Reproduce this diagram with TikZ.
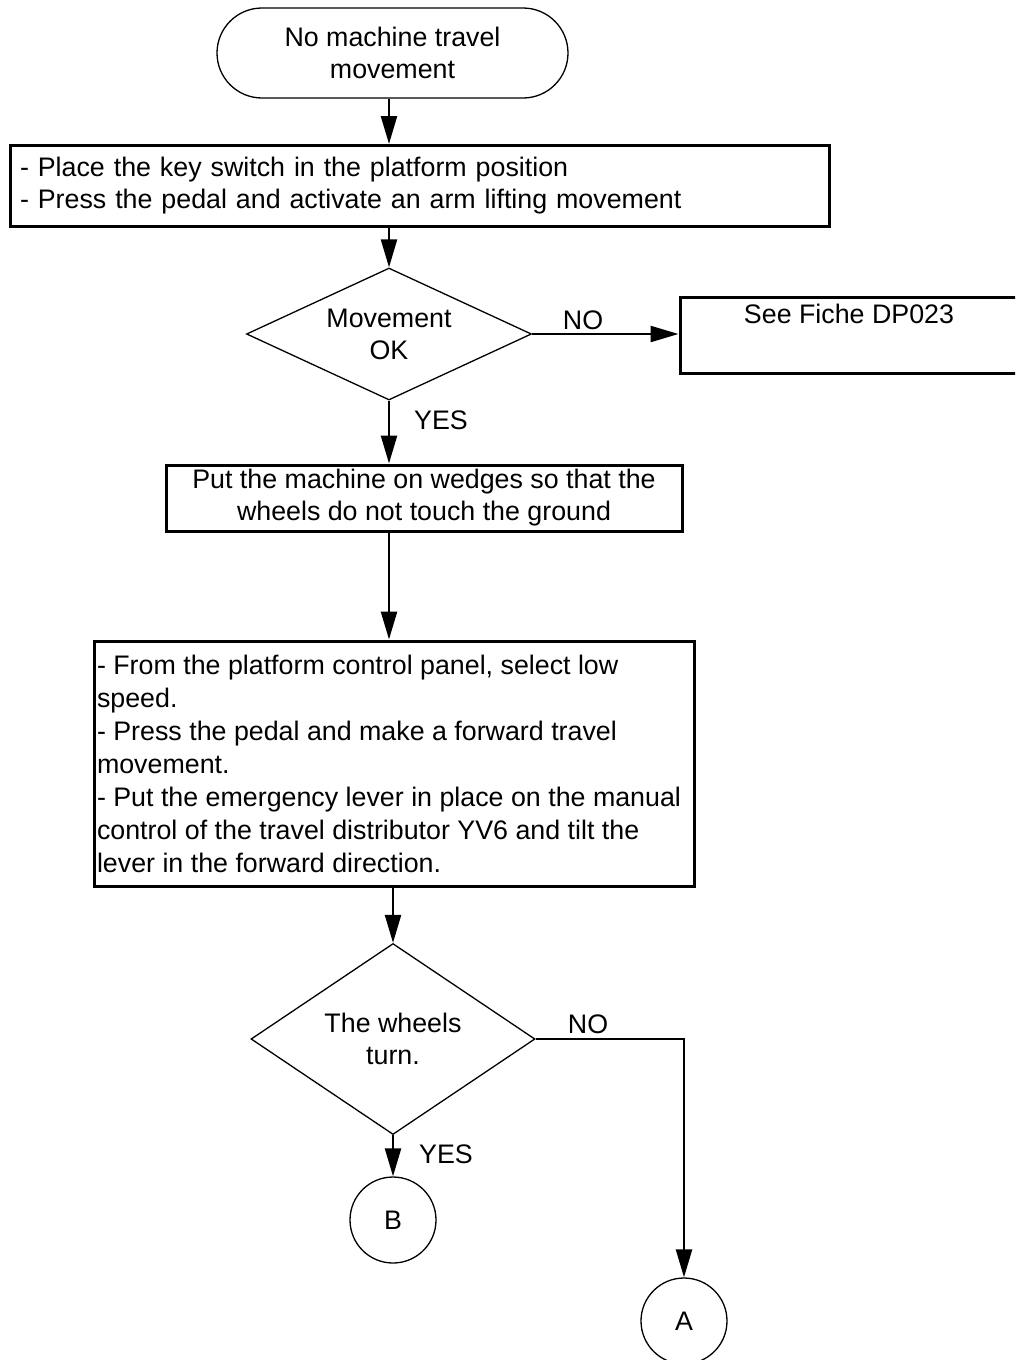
\documentclass[tikz,border=0pt]{standalone}
\usepackage{fontspec}
\setmainfont{Liberation Sans}
\usetikzlibrary{arrows.meta,shapes.geometric}
\begin{document}
\begin{tikzpicture}[x=1pt,y=-1pt,
  every node/.style={font=\fontsize{26.8}{32}\selectfont, inner sep=0pt},
  boxstyle/.style={draw, line width=3pt, rectangle},
  termstyle/.style={draw, line width=1.3pt, rectangle, rounded corners=45pt, minimum width=351pt, minimum height=90pt, align=center},
  decstyle/.style={draw, line width=1.3pt, diamond, aspect=2.16, align=center},
  connstyle/.style={draw, line width=1.3pt, circle, minimum size=86pt},
  flow/.style={line width=2.4pt, -{Triangle[length=28pt,width=16pt]}}
]
\useasboundingbox (0,0) rectangle (1015,1360);
\clip (0,0) rectangle (1015,1360);
\fill[white] (0,0) rectangle (1015,1360);

\node[termstyle] (start) at (392.5,53) {No machine travel\\movement};
\node[boxstyle, minimum width=819pt, minimum height=81pt, text width=799pt, align=left] (box1) at (419.5,186)
  {- Place the key switch in the platform position\\- Press the pedal and activate an arm lifting movement};
\node[decstyle, minimum width=285pt, minimum height=132pt] (d1) at (389,334) {Movement\\OK};
\node[boxstyle, minimum width=338pt, minimum height=76pt, align=center] (box2) at (849,335) {See Fiche DP023\\\strut};
\node[boxstyle, minimum width=516pt, minimum height=66pt, align=center] (box3) at (424,498)
  {Put the machine on wedges so that the\\wheels do not touch the ground};
\node[boxstyle, minimum width=600pt, minimum height=245pt, align=left,
      font=\fontsize{26.8}{33}\selectfont] (box4) at (394,763.5)
  {- From the platform control panel, select low\\speed.\\- Press the pedal and make a forward travel\\movement.\\- Put the emergency lever in place on the manual\rule{10pt}{0pt}\\control of the travel distributor YV6 and tilt the\\lever in the forward direction.};
\node[decstyle, minimum width=284pt, minimum height=191pt] (d2) at (393,1039) {The wheels\\turn.};
\node[connstyle] (B) at (393,1220) {B};
\node[connstyle] (A) at (684,1321) {A};

\node (no1) at (583,320) {NO};
\node (yes1) at (441,420) {YES};
\node (no2) at (588,1024) {NO};
\node (yes2) at (446,1154) {YES};

\draw[flow] (d1.north |- start.south) -- (d1.north |- box1.north);
\draw[flow] (d1.north |- box1.south) -- (d1.north);
\draw[flow] (d1.east) -- (d1.east -| box2.west);
\draw[flow] (d1.south) -- (d1.south |- box3.north);
\draw[flow] (d1.south |- box3.south) -- (d1.south |- box4.north);
\draw[flow] (d2.north |- box4.south) -- (d2.north);
\draw[flow] (d2.south) -- (B.north);
\draw[flow] (d2.east) -| (A.north);
\end{tikzpicture}
\end{document}
